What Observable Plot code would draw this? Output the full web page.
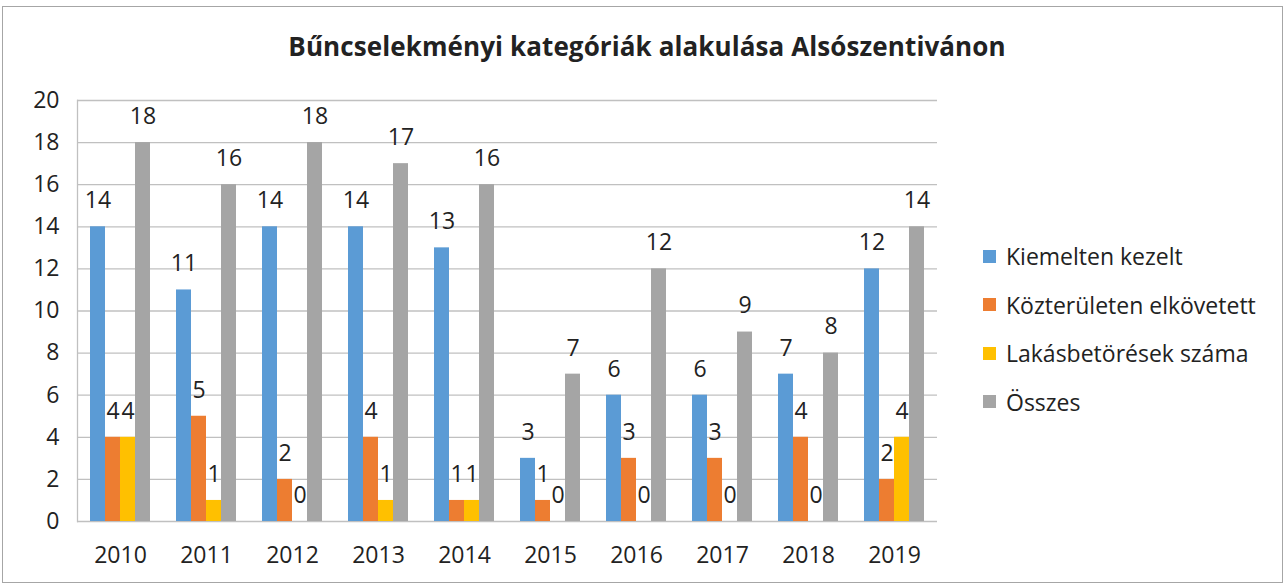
<!DOCTYPE html>
<html><head><meta charset="utf-8">
<script src="https://cdn.jsdelivr.net/npm/d3@7"></script>
<script src="https://cdn.jsdelivr.net/npm/@observablehq/plot@0.6"></script>
<style>
body{margin:0;background:#fff;}
#wrap{position:relative;width:1287px;height:585px;overflow:hidden;font-family:"Open Sans",sans-serif;color:#222;}
#frame{position:absolute;left:2px;top:6px;width:1281px;height:577px;border:1.5px solid #a6a6a6;box-sizing:border-box;}
#title{position:absolute;top:28px;left:0;width:1294px;text-align:center;font-weight:700;font-size:26px;letter-spacing:0.1px;}
#chart{position:absolute;left:0;top:0;}
#legend{position:absolute;left:983px;top:232px;font-size:23px;}
.row{display:flex;align-items:center;height:48.5px;}
.sw{width:13px;height:13px;margin-right:10px;}
</style></head>
<body>
<div id="wrap">
  <div id="frame"></div>
  <div id="chart"></div>
  <div id="title">Bűncselekményi kategóriák alakulása Alsószentivánon</div>
  <div id="legend"></div>
</div>
<script>
const years = ["2010","2011","2012","2013","2014","2015","2016","2017","2018","2019"];
const seriesNames = ["Kiemelten kezelt","Közterületen elkövetett","Lakásbetörések száma","Összes"];
const seriesColors = ["#5B9BD5","#ED7D31","#FFC000","#A5A5A5"];
const kiemelten = [14,11,14,14,13,3,6,6,7,12];
const kozteruleten = [4,5,2,4,1,1,3,3,4,2];
const lakas = [4,1,0,1,1,0,0,0,0,4];
const osszes = [18,16,18,17,16,7,12,9,8,14];
const yTicks = [0,2,4,6,8,10,12,14,16,18,20];

const seriesValues = [kiemelten, kozteruleten, lakas, osszes];
const data = [];
years.forEach((y, i) => seriesNames.forEach((s, j) => data.push({year: y, series: s, value: seriesValues[j][i]})));

const chart = Plot.plot({
  width: 1287, height: 585,
  marginLeft: 74, marginRight: 347, marginTop: 100, marginBottom: 64,
  style: {fontFamily: "'Open Sans', sans-serif", fontSize: "23px", color: "#222", background: "transparent"},
  fx: {domain: years, padding: 0, label: null},
  x: {domain: seriesNames, paddingInner: 0, paddingOuter: 0.8, axis: null},
  y: {domain: [0, 20], label: null},
  color: {domain: seriesNames, range: seriesColors},
  marks: [
    Plot.gridY(yTicks, {stroke: "#c0c0c0", strokeOpacity: 1, strokeWidth: 1.3}),
    Plot.frame({anchor: "left", facetAnchor: "left", stroke: "#c0c0c0", strokeWidth: 1.3}),
    Plot.barY(data, {fx: "year", x: "series", y: "value", fill: "series"}),
    Plot.text(data, {fx: "year", x: "series", y: "value", text: d => String(d.value), dy: -26, fontSize: 23, fill: "#222"}),
    Plot.axisY(yTicks, {tickSize: 0, tickPadding: 18, fontSize: 23, label: null, fill: "#222"}),
    Plot.axisFx({anchor: "bottom", tickSize: 0, tickPadding: 25, fontSize: 23, label: null, fill: "#222"})
  ]
});
document.getElementById("chart").appendChild(chart);

const legend = document.getElementById("legend");
seriesNames.forEach((s, i) => {
  const row = document.createElement("div");
  row.className = "row";
  const sw = document.createElement("div");
  sw.className = "sw";
  sw.style.background = seriesColors[i];
  const t = document.createElement("span");
  t.textContent = s;
  row.appendChild(sw); row.appendChild(t);
  legend.appendChild(row);
});
</script>
</body></html>
